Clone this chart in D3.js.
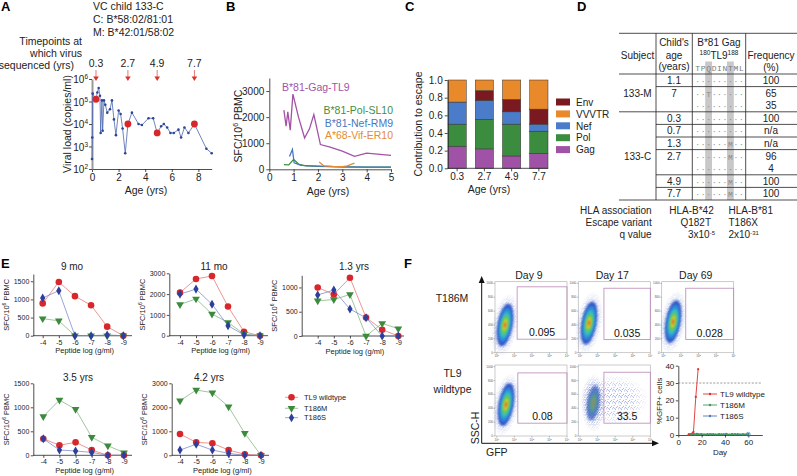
<!DOCTYPE html>
<html>
<head>
<meta charset="utf-8">
<script src="https://cdn.jsdelivr.net/npm/d3@7"></script>
<style>
  body { margin: 0; background: #fff; }
  svg { display: block; font-family: "Liberation Sans", Arial, sans-serif; }
</style>
</head>
<body>
<script>
// ---------------- data ----------------
// A: viral load, child 133-C
const vlAge = [0, 0.02, 0.05, 0.3, 0.4, 0.5, 0.6, 0.65, 0.75, 0.8, 0.9, 1.0, 1.15, 1.35, 1.5, 1.65, 1.8, 2.0, 2.15, 2.3, 2.5, 2.7, 3.0, 3.5, 3.75, 4.25, 4.6, 4.9, 5.2, 5.4, 5.65, 5.9, 6.15, 6.5, 6.7, 6.95, 7.25, 7.7, 8.6, 9.0];
const vlCopies = [280, 2500, 224000, 126000, 251000, 398000, 178000, 4000, 112000, 5000, 112000, 71000, 32000, 45000, 112000, 16000, 3200, 40000, 28000, 6300, 500, 10000, 32000, 10000, 9000, 18000, 18000, 4000, 8000, 10000, 7000, 4000, 4000, 5600, 2500, 7000, 4000, 10000, 800, 500];
const seqAge = [0.3, 2.7, 4.9, 7.7];
const seqCopies = [126000, 10000, 4000, 10000];

// B: epitope responses
const gagAge = [0.6, 0.69, 0.76, 0.86, 0.97, 1.2, 1.45, 1.65, 1.83, 2.1, 2.5, 3.0, 3.5, 4.0, 5.0];
const gagSfc = [2270, 1650, 2200, 1500, 2880, 2000, 1200, 1550, 2100, 950, 850, 700, 500, 620, 530];
const polAge = [0.6, 0.8, 1.0, 1.2, 1.5, 2, 3, 4, 5];
const polSfc = [180, 170, 380, 200, 130, 110, 90, 80, 80];
const nefAge = [0.83, 0.95, 1.02, 1.3, 2, 3, 4, 5];
const nefSfc = [490, 760, 250, 150, 120, 90, 80, 80];
const vifAge = [2.05, 2.25, 2.6, 3.0, 3.2, 3.5];
const vifSfc = [280, 130, 110, 100, 130, 240];

// C: contribution to escape
const escAges = ["0.3", "2.7", "4.9", "7.7"];
const escGag = [0.25, 0.22, 0.14, 0.17];
const escPol = [0.25, 0.335, 0.36, 0.25];
const escNef = [0.25, 0.215, 0.14, 0.08];
const escEnv = [0, 0.11, 0.14, 0.17];
const escVvvtr = [0.25, 0.12, 0.22, 0.33];

// D: table
const tlSeq = "TPQDINTML";
const childAge = ["1.1", "7", "", "0.3", "0.7", "1.3", "2.7", "", "4.9", "7.7"];
const seqRows = ["·········", "··T······", "·········", "·········", "·········", "······M··", "······M··", "·········", "······M··", "······M··"];
const freqPct = ["100", "65", "35", "100", "n/a", "n/a", "96", "4", "100", "100"];

// E: titrations
const peptideLog = [-4, -5, -6, -7, -8, -9];
const wt9mo = [890, 1480, 1090, 840, 250, 0];
const m9mo = [470, 410, 0, 0, 0, 0];
const s9mo = [1040, 1240, 0, 0, 20, 0];
const wt11mo = [2070, 2730, 2870, 1400, 190, 0];
const m11mo = [1500, 1770, 1040, 640, 80, 0];
const s11mo = [2000, 2240, 1510, 480, 40, 0];
const wt13y = [1000, 855, 1200, 380, 130, 0];
const m13y = [725, 750, 855, 0, 260, 150];
const s13y = [845, 945, 555, 375, 0, 0];
const wt35y = [345, 210, 270, 110, 0, 0];
const m35y = [810, 1150, 960, 375, 200, 55];
const s35y = [345, 110, 90, 60, 0, 0];
const wt42y = [890, 540, 500, 220, 40, 0];
const m42y = [2275, 2720, 2610, 2025, 915, 0];
const s42y = [220, 460, 220, 80, 0, 0];

// F: flow and outgrowth
const flowDays = ["Day 9", "Day 17", "Day 69"];
const gateT186M = ["0.095", "0.035", "0.028"];
const gateTL9 = ["0.08", "33.5"];
const clusterGfp = [0.47, 0.51, 0.55, 0.53, 0.75];
const clusterSsc = [400, 428, 447, 453, 477];
const tl9Day = [9, 13, 15, 17];
const tl9Gfp = [0.1, 1.8, 22, 38];
const m186Day = [9, 11, 13, 15, 17, 20, 23, 27, 30, 34, 37, 41, 44, 48, 51, 55, 58, 60];
const m186Gfp = [0.5, 0.4, 0.6, 0.3, 0.4, 0.5, 0.3, 0.4, 0.5, 0.3, 0.4, 0.6, 0.3, 0.4, 0.5, 0.4, 0.3, 0.4];
const s186Day = [9, 12, 14, 16, 19, 22, 25, 28, 32, 35, 39, 42, 46, 49, 53, 56, 60];
const s186Gfp = [0.3, 0.5, 0.4, 0.6, 0.4, 0.3, 0.5, 0.4, 0.3, 0.5, 0.4, 0.3, 0.5, 0.4, 0.3, 0.4, 0.5];

// ---------------- drawing ----------------
const FONT = '"Liberation Sans", Arial, sans-serif';
const fmtInt = d3.format("d");
const svg = d3.select("body").append("svg").attr("width", 797).attr("height", 476);
svg.append("rect").attr("width", 797).attr("height", 476).attr("fill", "#fff");
const defs = svg.append("defs");

function styleAxis(g, fs) {
    g.attr("font-family", FONT).attr("font-size", fs);
    g.selectAll("path,line").attr("stroke", "#222").attr("stroke-width", 0.8);
    g.selectAll("text").attr("fill", "#222");
}
function label(x, y, s, fs, anchor) {
    return svg.append("text").attr("x", x).attr("y", y).attr("font-size", fs || 10.5)
        .attr("text-anchor", anchor || "start").attr("fill", "#222").text(s);
}
function vlabel(x, y, fs) {
    return svg.append("text").attr("transform", "translate(" + x + "," + y + ") rotate(-90)")
        .attr("text-anchor", "middle").attr("dy", "0.35em").attr("font-size", fs).attr("fill", "#222");
}

// panel letters
[["A", 1, 11], ["B", 226, 11], ["C", 405, 11], ["D", 577, 11], ["E", 1, 268], ["F", 404, 268]].forEach(l => {
    svg.append("text").attr("x", l[1]).attr("y", l[2]).attr("font-size", 13).attr("font-weight", "bold").text(l[0]);
});

// ---- A ----
const xA = d3.scaleLinear().domain([0, 9]).range([92, 211.7]);
const yA = d3.scaleLog().domain([1e2, 1e6]).range([169, 79]);

label(93, 10, "VC child 133-C");
label(93, 23, "C: B*58:02/81:01");
label(93, 35.5, "M: B*42:01/58:02");
label(82, 45, "Timepoints at", 10.5, "end");
label(82, 57, "which virus", 10.5, "end");
label(74, 68.5, "sequenced (yrs)", 10.5, "end");

seqAge.forEach(a => {
    const x = xA(a);
    label(x, 67, String(a), 10.5, "middle");
    svg.append("line").attr("x1", x).attr("x2", x).attr("y1", 70).attr("y2", 77).attr("stroke", "#e27a74").attr("stroke-width", 1);
    svg.append("path").attr("d", `M${x - 2.8},76.5L${x + 2.8},76.5L${x},81Z`).attr("fill", "#d9332d");
});

const axAx = svg.append("g").attr("transform", "translate(0,169)")
    .call(d3.axisBottom(xA).tickValues([0, 2, 4, 6, 8]).tickSize(3).tickSizeOuter(0).tickPadding(2));
styleAxis(axAx, 10);
const axAy = svg.append("g").attr("transform", "translate(92,0)")
    .call(d3.axisLeft(yA).tickValues([1e2, 1e3, 1e4, 1e5, 1e6]).tickSize(3).tickSizeOuter(0).tickFormat(""));
styleAxis(axAy, 10);
axAy.select(".domain").attr("stroke", "#9a9a9a").attr("stroke-width", 2);
[1e2, 1e3, 1e4, 1e5, 1e6].forEach(v => {
    const t = svg.append("text").attr("x", 88).attr("y", yA(v) + 4).attr("text-anchor", "end").attr("font-size", 10).attr("fill", "#222");
    t.append("tspan").text("10");
    t.append("tspan").attr("dy", -4).attr("font-size", 6.5).text(Math.round(Math.log10(v)));
});
vlabel(67, 124, 10.5).text("Viral load (copies/ml)");
label(146, 194, "Age (yrs)", 10.5, "middle");

const vlPts = d3.zip(vlAge, vlCopies);
svg.append("path").datum(vlPts)
    .attr("d", d3.line().x(d => xA(d[0])).y(d => yA(d[1])))
    .attr("fill", "none").attr("stroke", "#4a66b0").attr("stroke-width", 0.8);
svg.append("g").selectAll("circle").data(vlPts).enter().append("circle")
    .attr("cx", d => xA(d[0])).attr("cy", d => yA(d[1])).attr("r", 1.3).attr("fill", "#2e4596");
svg.append("g").selectAll("circle").data(d3.zip(seqAge, seqCopies)).enter().append("circle")
    .attr("cx", d => xA(d[0])).attr("cy", d => yA(d[1])).attr("r", 3.4).attr("fill", "#d9262b");

// ---- B ----
const xB = d3.scaleLinear().domain([0, 5]).range([269.3, 391]);
const yB = d3.scaleLinear().domain([0, 3500]).range([169.3, 78]);
const axBx = svg.append("g").attr("transform", "translate(0,169.3)")
    .call(d3.axisBottom(xB).ticks(5).tickFormat(fmtInt).tickSize(3).tickSizeOuter(0).tickPadding(2));
styleAxis(axBx, 10);
const axBy = svg.append("g").attr("transform", "translate(269.3,0)")
    .call(d3.axisLeft(yB).tickValues([0, 1000, 2000, 3000]).tickFormat(fmtInt).tickSize(3).tickSizeOuter(0).tickPadding(2));
styleAxis(axBy, 10);
const ylB = vlabel(238, 126, 10.5);
ylB.append("tspan").text("SFC/10");
ylB.append("tspan").attr("dy", -4).attr("font-size", 7).text("6");
ylB.append("tspan").attr("dy", 4).text(" PBMC");
label(328, 195, "Age (yrs)", 10.5, "middle");

const lineB = d3.line().x(d => xB(d[0])).y(d => yB(d[1]));
[[polAge, polSfc, "#3f8f3f"], [nefAge, nefSfc, "#4777c4"], [vifAge, vifSfc, "#e58a35"], [gagAge, gagSfc, "#a452a7"]].forEach(s => {
    svg.append("path").datum(d3.zip(s[0], s[1])).attr("d", lineB)
        .attr("fill", "none").attr("stroke", s[2]).attr("stroke-width", 1.3);
});
label(282, 91, "B*81-Gag-TL9", 10.5).attr("fill", "#a452a7");
label(393, 114, "B*81-Pol-SL10", 10.5, "end").attr("fill", "#3f8f3f");
label(393, 126.5, "B*81-Nef-RM9", 10.5, "end").attr("fill", "#4777c4");
label(393, 139, "A*68-Vif-ER10", 10.5, "end").attr("fill", "#e58a35");

// ---- C ----
const xC = d3.scaleBand().domain(escAges).range([448, 548]).paddingInner(0.33).paddingOuter(0);
const yC = d3.scaleLinear().domain([0, 1]).range([168.3, 80]);
const stackKeys = ["Gag", "Pol", "Nef", "Env", "VVVTR"];
const stackCols = { Gag: "#a052a6", Pol: "#3c8c3f", Nef: "#4a7cc9", Env: "#7a1a20", VVVTR: "#e8892c" };
const escRows = escAges.map((a, i) => ({ age: a, Gag: escGag[i], Pol: escPol[i], Nef: escNef[i], Env: escEnv[i], VVVTR: escVvvtr[i] }));
const stacked = d3.stack().keys(stackKeys)(escRows);
svg.append("g").selectAll("g").data(stacked).enter().append("g")
    .attr("fill", d => stackCols[d.key])
    .selectAll("rect").data(d => d).enter().append("rect")
    .attr("x", d => xC(d.data.age)).attr("width", xC.bandwidth())
    .attr("y", d => yC(d[1])).attr("height", d => yC(d[0]) - yC(d[1]))
    .attr("stroke", "#333").attr("stroke-width", 0.5);
const axCx = svg.append("g").attr("transform", "translate(0,168.3)")
    .call(d3.axisBottom(xC).tickSize(3).tickSizeOuter(0).tickPadding(2));
styleAxis(axCx, 10);
axCx.select(".domain").attr("d", "M-0.3,0H100.5").attr("transform", "translate(447.7,0)");
const axCy = svg.append("g").attr("transform", "translate(447.7,0)")
    .call(d3.axisLeft(yC).tickValues([0, 0.2, 0.4, 0.6, 0.8, 1]).tickFormat(d3.format(".1f")).tickSize(3).tickSizeOuter(0).tickPadding(2));
styleAxis(axCy, 10);
vlabel(418, 124, 10.5).text("Contribution to escape");
label(489, 193, "Age (yrs)", 10.5, "middle");
// legend
["Env", "VVVTR", "Nef", "Pol", "Gag"].forEach((k, i) => {
    const y = 102 + i * 11.9;
    svg.append("rect").attr("x", 556).attr("y", y - 3.5).attr("width", 14).attr("height", 7).attr("fill", stackCols[k]);
    label(576, y + 3.7, k, 10);
});

// ---- D ----
const rowH = 12.6, hdrY = 74;
const seqX = d3.scalePoint().domain(d3.range(9)).range([697.7, 741.3]);
[2, 6].forEach(p => {
    svg.append("rect").attr("x", seqX(p) - 3.4).attr("width", 6.8).attr("y", 61.5).attr("height", 200 - 61.5).attr("fill", "#c8c8c8");
});
const tG = svg.append("g").attr("stroke", "#222").attr("stroke-width", 0.8);
tG.append("line").attr("x1", 619).attr("x2", 797).attr("y1", 33.3).attr("y2", 33.3);
[0, 1, 3, 4, 5, 6, 8, 9, 10].forEach(k => {
    const full = k === 0 || k === 3 || k === 10;
    tG.append("line").attr("x1", full ? 619 : 656).attr("x2", 797).attr("y1", hdrY + k * rowH).attr("y2", hdrY + k * rowH);
});
[656, 692.3, 745.7].forEach(x => tG.append("line").attr("x1", x).attr("x2", x).attr("y1", 33.3).attr("y2", 200));

label(637.5, 58.5, "Subject", 10, "middle");
label(674, 46, "Child's", 10, "middle");
label(674, 58.5, "age", 10, "middle");
label(674, 70, "(years)", 10, "middle");
label(719, 46, "B*81 Gag", 10, "middle");
const tl9h = label(719, 58.5, "", 10, "middle");
tl9h.append("tspan").attr("font-size", 6.5).attr("dy", -3.5).text("180");
tl9h.append("tspan").attr("dy", 3.5).text("TL9");
tl9h.append("tspan").attr("font-size", 6.5).attr("dy", -3.5).text("188");
label(771, 58.5, "Frequency", 10, "middle");
label(771, 71, "(%)", 10, "middle");
tlSeq.split("").forEach((c, i) => {
    svg.append("text").attr("x", seqX(i)).attr("y", 70.5).attr("text-anchor", "middle")
        .attr("font-family", '"Liberation Mono", monospace').attr("font-size", 8).attr("fill", "#7a7a7a").text(c);
});
childAge.forEach((a, r) => {
    const yc = hdrY + (r + 0.5) * rowH + 3.6;
    label(674, yc, a, 10, "middle");
    label(771, yc, freqPct[r], 10, "middle");
    seqRows[r].split("").forEach((c, i) => {
        svg.append("text").attr("x", seqX(i)).attr("y", yc).attr("text-anchor", "middle")
            .attr("font-family", '"Liberation Mono", monospace').attr("font-size", 8).attr("fill", "#8a8a8a").text(c);
    });
});
label(637.5, hdrY + 1.5 * rowH + 3.6, "133-M", 10, "middle");
label(637.5, hdrY + 6.5 * rowH + 3.6, "133-C", 10, "middle");

label(651.7, 214, "HLA association", 10, "end");
label(651.7, 226, "Escape variant", 10, "end");
label(651.7, 238, "q value", 10, "end");
label(691.5, 214, "HLA-B*42", 10, "middle");
label(711, 226, "Q182T", 10, "end");
const q1 = label(688, 238, "3x10", 10);
q1.append("tspan").attr("dy", -3.5).attr("font-size", 6).text("-5");
label(728.5, 214, "HLA-B*81", 10);
label(728.5, 226, "T186X", 10);
const q2 = label(728.5, 238, "2x10", 10);
q2.append("tspan").attr("dy", -3.5).attr("font-size", 6).text("-31");

// ---- E ----
const eCharts = [
    { title: "9 mo", wt: wt9mo, m: m9mo, s: s9mo, ax: 33.3, x4: 42.7, x9: 123.3, xEnd: 132, y0: 335.7, yTop: 274, max: 1700, ticks: [0, 500, 1000, 1500], tx: 72, ty: 270 },
    { title: "11 mo", wt: wt11mo, m: m11mo, s: s11mo, ax: 169.3, x4: 180, x9: 260, xEnd: 268, y0: 335.7, yTop: 273.3, max: 3000, ticks: [0, 1000, 2000, 3000], tx: 214, ty: 270 },
    { title: "1.3 yrs", wt: wt13y, m: m13y, s: s13y, ax: 301.7, x4: 317.7, x9: 398.3, xEnd: 404, y0: 336, yTop: 275.3, max: 1250, ticks: [0, 500, 1000], tx: 354, ty: 270 },
    { title: "3.5 yrs", wt: wt35y, m: m35y, s: s35y, ax: 33.3, x4: 43.3, x9: 124, xEnd: 132, y0: 455.3, yTop: 383.3, max: 1500, ticks: [0, 500, 1000, 1500], tx: 78, ty: 381 },
    { title: "4.2 yrs", wt: wt42y, m: m42y, s: s42y, ax: 171.7, x4: 180, x9: 261, xEnd: 269, y0: 455.3, yTop: 383.3, max: 3000, ticks: [0, 1000, 2000, 3000], tx: 209, ty: 381 }
];
const eStyle = {
    wt: { line: "#e26a64", fill: "#d8262b", sym: d3.symbolCircle, size: 34, rot: 0 },
    m: { line: "#79ad79", fill: "#3c8a3c", sym: d3.symbolTriangle, size: 26, rot: 180 },
    s: { line: "#6c80c6", fill: "#2d3e9b", sym: d3.symbolDiamond, size: 24, rot: 0 }
};
eCharts.forEach(c => {
    const x = d3.scaleLinear().domain([-4, -9]).range([c.x4, c.x9]);
    const y = d3.scaleLinear().domain([0, c.max]).range([c.y0, c.yTop]);
    const gx = svg.append("g").attr("transform", "translate(0," + c.y0 + ")")
        .call(d3.axisBottom(x).tickValues(peptideLog).tickFormat(d => String(d)).tickSize(2.5).tickSizeOuter(0).tickPadding(1.5));
    styleAxis(gx, 7);
    gx.select(".domain").remove();
    gx.append("line").attr("x1", c.ax).attr("x2", c.xEnd).attr("stroke", "#222").attr("stroke-width", 0.8);
    const gy = svg.append("g").attr("transform", "translate(" + c.ax + ",0)")
        .call(d3.axisLeft(y).tickValues(c.ticks).tickFormat(fmtInt).tickSize(2.5).tickSizeOuter(0).tickPadding(1.5));
    styleAxis(gy, 7);
    const yl = vlabel(c.ax - 27, (c.y0 + c.yTop) / 2, 7.5);
    yl.append("tspan").text("SFC/10");
    yl.append("tspan").attr("dy", -3).attr("font-size", 5).text("6");
    yl.append("tspan").attr("dy", 3).text(" PBMC");
    label((c.ax + c.xEnd) / 2 + 2, c.y0 + 17.5, "Peptide log (g/ml)", 7.5, "middle");
    label(c.tx, c.ty, c.title, 10, "middle");
    ["wt", "m", "s"].forEach(k => {
        const st = eStyle[k];
        const pts = d3.zip(peptideLog, c[k]);
        svg.append("path").datum(pts).attr("d", d3.line().x(d => x(d[0])).y(d => y(d[1])))
            .attr("fill", "none").attr("stroke", st.line).attr("stroke-width", 0.7);
        svg.append("g").selectAll("path").data(pts).enter().append("path")
            .attr("d", d3.symbol().type(st.sym).size(st.size))
            .attr("transform", d => "translate(" + x(d[0]) + "," + y(d[1]) + ") rotate(" + st.rot + ")")
            .attr("fill", st.fill);
    });
});
// E legend
["TL9 wildtype", "T186M", "T186S"].forEach((n, i) => {
    const st = eStyle[["wt", "m", "s"][i]];
    const y = [397.3, 408.3, 417.7][i];
    svg.append("line").attr("x1", 285).attr("x2", 298).attr("y1", y).attr("y2", y).attr("stroke", st.line).attr("stroke-width", 0.7);
    svg.append("path").attr("d", d3.symbol().type(st.sym).size(st.size)).attr("transform", "translate(291.5," + y + ") rotate(" + st.rot + ")").attr("fill", st.fill);
    label(304, y + 2.7, n, 7.5);
});

// ---- F ----
const fadeGrad = defs.append("radialGradient").attr("id", "fadeGrad");
fadeGrad.append("stop").attr("offset", "0%").attr("stop-color", "#fff");
fadeGrad.append("stop").attr("offset", "45%").attr("stop-color", "#fff");
fadeGrad.append("stop").attr("offset", "100%").attr("stop-color", "#000");
const fadeMask = defs.append("mask").attr("id", "fadeMask").attr("maskContentUnits", "objectBoundingBox");
fadeMask.append("rect").attr("width", 1).attr("height", 1).attr("fill", "url(#fadeGrad)");
// speckle textures (fixed tile layout)
const dots = defs.append("pattern").attr("id", "dots").attr("width", 5).attr("height", 5).attr("patternUnits", "userSpaceOnUse");
[[0.3, 0.4], [2.6, 0.9], [4.1, 2.2], [1.2, 2.7], [3.0, 3.6], [0.5, 4.3], [2.2, 1.9], [4.3, 4.5], [1.8, 4.0], [3.6, 0.2]].forEach(p => {
    dots.append("rect").attr("x", p[0]).attr("y", p[1]).attr("width", 0.75).attr("height", 0.75).attr("fill", "#2a46b4");
});
const dots2 = defs.append("pattern").attr("id", "dots2").attr("width", 6).attr("height", 6).attr("patternUnits", "userSpaceOnUse");
[[0.4, 0.6], [3.3, 1.4], [5.1, 3.9], [1.7, 3.2], [3.9, 5.2], [0.9, 5.1], [2.5, 0.1]].forEach(p => {
    dots2.append("rect").attr("x", p[0]).attr("y", p[1]).attr("width", 0.7).attr("height", 0.7).attr("fill", "#3550b8");
});
defs.append("filter").attr("id", "blurF").attr("x", "-50%").attr("y", "-50%").attr("width", "200%").attr("height", "200%")
    .append("feGaussianBlur").attr("stdDeviation", 1.3);

const fCols = [495, 578.3, 661.7], fRows = [281.7, 365], fW = 72, fH = 71;
const flowPlots = [
    { c: 0, r: 0, gate: [1.16, 195, 950], val: gateT186M[0] },
    { c: 1, r: 0, gate: [1.36, 190, 930], val: gateT186M[1] },
    { c: 2, r: 0, gate: [1.27, 190, 930], val: gateT186M[2] },
    { c: 0, r: 1, gate: [1.2, 185, 910], val: gateTL9[0] },
    { c: 1, r: 1, gate: [1.36, 185, 920], val: gateTL9[1] }
];
const blobCols = ["#3358c8", "#2f8fd8", "#36bfc8", "#6cc84a", "#d8d030", "#e8502a"];
const blobCols2 = ["#3b5cc0", "#4a86b8", "#5aa08a", "#7d9a6a", "#8a8a70"];
flowPlots.forEach((p, i) => {
    const x0 = fCols[p.c], y0 = fRows[p.r];
    const x = d3.scaleLinear().domain([-0.1, 4]).range([x0, x0 + fW]);
    const y = d3.scaleLinear().domain([0, 1024]).range([y0 + fH, y0]);
    const g = svg.append("g");
    g.append("rect").attr("x", x0).attr("y", y0).attr("width", fW).attr("height", fH).attr("fill", "#fff").attr("stroke", "#b5b5b5").attr("stroke-width", 0.7);
    const cx = x(clusterGfp[i]), cy = y(clusterSsc[i]);
    if (i === 4) {
        // broad spread of infected cells
        g.append("ellipse").attr("cx", x(1.9)).attr("cy", y(520)).attr("rx", x(1.9) - x(-0.1)).attr("ry", y(150) - y(520))
            .attr("fill", "url(#dots2)").attr("mask", "url(#fadeMask)");
        g.append("ellipse").attr("cx", cx).attr("cy", cy).attr("rx", x(clusterGfp[i] + 0.7) - cx).attr("ry", y(clusterSsc[i] - 420) - cy)
            .attr("fill", "url(#dots)").attr("mask", "url(#fadeMask)");
        blobCols2.forEach((col, k) => {
            const f = [0.85, 0.62, 0.45, 0.3, 0.16][k];
            g.append("ellipse").attr("cx", cx).attr("cy", cy).attr("rx", (x(clusterGfp[i] + 0.42) - cx) * f).attr("ry", (y(clusterSsc[i] - 300) - cy) * f)
                .attr("transform", "rotate(8," + cx + "," + cy + ")").attr("fill", col).attr("opacity", 0.75).attr("filter", "url(#blurF)");
        });
    } else {
        g.append("ellipse").attr("cx", cx).attr("cy", cy).attr("rx", x(clusterGfp[i] + 0.75) - cx).attr("ry", y(clusterSsc[i] - 460) - cy)
            .attr("transform", "rotate(10," + cx + "," + cy + ")").attr("fill", "url(#dots)").attr("mask", "url(#fadeMask)");
        blobCols.forEach((col, k) => {
            const f = [0.95, 0.75, 0.57, 0.42, 0.27, 0.13][k];
            g.append("ellipse").attr("cx", cx).attr("cy", cy).attr("rx", (x(clusterGfp[i] + 0.45) - cx) * f).attr("ry", (y(clusterSsc[i] - 330) - cy) * f)
                .attr("transform", "rotate(10," + cx + "," + cy + ")").attr("fill", col).attr("filter", "url(#blurF)");
        });
    }
    // gate
    g.append("rect").attr("x", x(p.gate[0])).attr("y", y(p.gate[2])).attr("width", x0 + fW - x(p.gate[0]))
        .attr("height", y(p.gate[1]) - y(p.gate[2])).attr("fill", "none").attr("stroke", "#b887b6").attr("stroke-width", 0.8);
    g.append("text").attr("x", (x(p.gate[0]) + x0 + fW) / 2).attr("y", y(p.gate[1]) - 3).attr("text-anchor", "middle")
        .attr("font-size", 10.5).attr("fill", "#111").text(p.val);
    // tiny ticks
    [0, 1, 2, 3, 4].forEach(d => {
        g.append("line").attr("x1", x(d)).attr("x2", x(d)).attr("y1", y0 + fH).attr("y2", y0 + fH + 1.5).attr("stroke", "#666").attr("stroke-width", 0.4);
        const t = g.append("text").attr("x", x(d)).attr("y", y0 + fH + 4.5).attr("text-anchor", "middle").attr("font-size", 3).attr("fill", "#555");
        t.append("tspan").text("10");
        t.append("tspan").attr("dy", -1).attr("font-size", 2.2).text(d);
    });
    [0, 200, 400, 600, 800, 1000].forEach(v => {
        g.append("line").attr("x1", x0 - 1.5).attr("x2", x0).attr("y1", y(v)).attr("y2", y(v)).attr("stroke", "#666").attr("stroke-width", 0.4);
        g.append("text").attr("x", x0 - 2).attr("y", y(v) + 1).attr("text-anchor", "end").attr("font-size", 3).attr("fill", "#555").text(v);
    });
});
flowDays.forEach((d, i) => label(fCols[i] + fW / 2 - 2, 279, d, 10.5, "middle"));
label(452, 302, "T186M", 10.5, "middle");
label(452.5, 376.5, "TL9", 10.5, "middle");
label(452.5, 392.5, "wildtype", 10.5, "middle");
// big axis arrows
svg.append("line").attr("x1", 481.7).attr("x2", 481.7).attr("y1", 443.3).attr("y2", 281).attr("stroke", "#111").attr("stroke-width", 1);
svg.append("path").attr("d", "M478.7,283L484.7,283L481.7,276Z").attr("fill", "#111");
svg.append("line").attr("x1", 481.7).attr("x2", 654).attr("y1", 443.3).attr("y2", 443.3).attr("stroke", "#111").attr("stroke-width", 1);
svg.append("path").attr("d", "M652,440.3L652,446.3L659,443.3Z").attr("fill", "#111");
vlabel(475, 428, 10.5).text("SSC-H");
label(486, 456, "GFP", 10.5);

// outgrowth line chart
const xF = d3.scaleLinear().domain([0, 72]).range([678.3, 762.3]);
const yF = d3.scaleLinear().domain([0, 40]).range([435, 365.7]);
const axFx = svg.append("g").attr("transform", "translate(0,435)")
    .call(d3.axisBottom(xF).tickValues([0, 20, 40, 60]).tickSize(2.5).tickSizeOuter(0).tickPadding(1.5));
styleAxis(axFx, 8);
const axFy = svg.append("g").attr("transform", "translate(678.3,0)")
    .call(d3.axisLeft(yF).tickValues([0, 10, 20, 30, 40]).tickSize(2.5).tickSizeOuter(0).tickPadding(1.5));
styleAxis(axFy, 8);
svg.append("line").attr("x1", 678.3).attr("x2", 762.3).attr("y1", yF(30)).attr("y2", yF(30))
    .attr("stroke", "#555").attr("stroke-width", 0.6).attr("stroke-dasharray", "2,1.5");
vlabel(659.5, 401, 8).text("%GFP+ cells");
label(720, 455, "Day", 8, "middle");
const fSeries = [
    { day: s186Day, val: s186Gfp, col: "#4a78c0", name: "T186S" },
    { day: m186Day, val: m186Gfp, col: "#3f9a55", name: "T186M" },
    { day: tl9Day, val: tl9Gfp, col: "#e0302e", name: "TL9 wildtype" }
];
fSeries.forEach(s => {
    const pts = d3.zip(s.day, s.val);
    svg.append("path").datum(pts).attr("d", d3.line().x(d => xF(d[0])).y(d => yF(d[1])))
        .attr("fill", "none").attr("stroke", s.col).attr("stroke-width", 0.9);
    svg.append("g").selectAll("circle").data(pts).enter().append("circle")
        .attr("cx", d => xF(d[0])).attr("cy", d => yF(d[1])).attr("r", 1.1).attr("fill", s.col);
});
svg.append("circle").attr("cx", xF(60)).attr("cy", yF(0.4)).attr("r", 2).attr("fill", "none").attr("stroke", "#4a78c0").attr("stroke-width", 0.7);
["TL9 wildtype", "T186M", "T186S"].forEach((n, i) => {
    const s = fSeries.find(f => f.name === n);
    const y = [394, 405, 416][i];
    svg.append("line").attr("x1", 703).attr("x2", 717).attr("y1", y).attr("y2", y).attr("stroke", s.col).attr("stroke-width", 0.9);
    svg.append("circle").attr("cx", 710).attr("cy", y).attr("r", 1.2).attr("fill", s.col);
    label(720, y + 3, n, 8);
});
</script>
</body>
</html>
